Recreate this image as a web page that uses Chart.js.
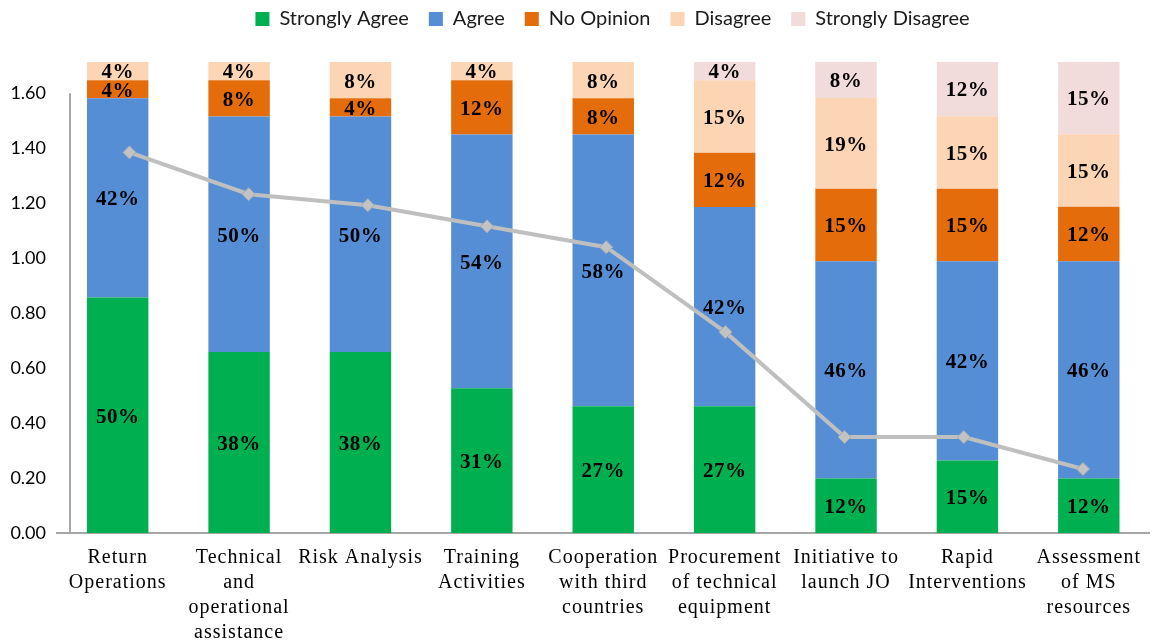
<!DOCTYPE html>
<html>
<head>
<meta charset="utf-8">
<title>Survey results</title>
<script src="https://cdn.jsdelivr.net/npm/chart.js@4.4.0/dist/chart.umd.min.js"></script>
<style>
    html, body { margin: 0; padding: 0; background: #ffffff; }
    #wrap { width: 1157px; height: 643px; position: relative; }
</style>
</head>
<body>
<div id="wrap"><canvas id="surveyChart"></canvas></div>
<script>
// ============================================================
//  DATA
// ============================================================

const categories = [
    ["Return", "Operations"],
    ["Technical", "and", "operational", "assistance"],
    ["Risk Analysis"],
    ["Training", "Activities"],
    ["Cooperation", "with third", "countries"],
    ["Procurement", "of technical", "equipment"],
    ["Initiative to", "launch JO"],
    ["Rapid", "Interventions"],
    ["Assessment", "of MS", "resources"]
];

// segment heights on the value axis
const stronglyAgree    = [0.857, 0.659, 0.659, 0.527, 0.461, 0.461, 0.198, 0.264, 0.198];
const agree            = [0.725, 0.857, 0.857, 0.923, 0.989, 0.725, 0.791, 0.725, 0.791];
const noOpinion        = [0.066, 0.132, 0.066, 0.198, 0.132, 0.198, 0.264, 0.264, 0.198];
const disagree         = [0.066, 0.066, 0.132, 0.066, 0.132, 0.264, 0.330, 0.264, 0.264];
const stronglyDisagree = [0,     0,     0,     0,     0,     0.066, 0.132, 0.198, 0.264];

// percentages printed inside the segments
const stronglyAgreePct    = [50, 38, 38, 31, 27, 27, 12, 15, 12];
const agreePct            = [42, 50, 50, 54, 58, 42, 46, 42, 46];
const noOpinionPct        = [4, 8, 4, 12, 8, 12, 15, 15, 12];
const disagreePct         = [4, 4, 8, 4, 8, 15, 19, 15, 15];
const stronglyDisagreePct = [0, 0, 0, 0, 0, 4, 8, 12, 15];

// grey line with diamonds (drawn on its own, slightly narrower category axis)
const scoreLine = [1.385, 1.233, 1.193, 1.116, 1.040, 0.731, 0.349, 0.349, 0.233];

const yTicks = [0, 0.2, 0.4, 0.6, 0.8, 1.0, 1.2, 1.4, 1.6];
const yMax = 1.714;

// ============================================================
//  PLUGINS
// ============================================================

const segmentLabels = {
    id: "segmentLabels",
    afterDatasetsDraw(chart) {
        const ctx = chart.ctx;
        ctx.save();
        ctx.font = "bold 21px 'Liberation Serif', 'Times New Roman', serif";
        ctx.letterSpacing = "0.5px";
        ctx.fillStyle = "#000000";
        ctx.textAlign = "center";
        ctx.textBaseline = "middle";
        chart.data.datasets.forEach((ds, i) => {
            if (!ds.pct) return;
            const meta = chart.getDatasetMeta(i);
            meta.data.forEach((bar, j) => {
                const p = ds.pct[j];
                if (!p) return;
                ctx.fillText(p + "%", bar.x, (bar.y + bar.base) / 2 + 2);
            });
        });
        ctx.restore();
    }
};

const leftAxisLine = {
    id: "leftAxisLine",
    beforeDatasetsDraw(chart) {
        const ctx = chart.ctx;
        const y = chart.scales.y;
        const x = chart.chartArea.left + 13;
        ctx.save();
        ctx.strokeStyle = "#a6a6a6";
        ctx.lineWidth = 2;
        ctx.beginPath();
        ctx.moveTo(x, y.getPixelForValue(0));
        ctx.lineTo(x, y.getPixelForValue(yTicks[yTicks.length - 1]));
        ctx.stroke();
        ctx.restore();
    }
};

// legend block height, legend offset, and wider spacing for category text
const layoutTweaks = {
    id: "layoutTweaks",
    beforeInit(chart) {
        const fit = chart.legend.fit;
        chart.legend.fit = function () {
            fit.bind(chart.legend)();
            this.height = 62;
        };
    },
    afterLayout(chart) {
        chart.legend.left += 29;
        chart.legend.right += 29;
        chart.legend.top -= 11;
        chart.legend.bottom -= 11;

        const xs = chart.scales.x;
        if (!xs._spaced) {
            const drawLabels = xs.drawLabels;
            xs.drawLabels = function (area) {
                chart.ctx.save();
                chart.ctx.letterSpacing = "1px";
                drawLabels.call(this, area);
                chart.ctx.restore();
            };
            xs._spaced = true;
        }
    }
};

// ============================================================
//  CHART
// ============================================================

function barSet(label, data, pct, color) {
    return {
        type: "bar",
        label: label,
        data: data,
        pct: pct,
        backgroundColor: color,
        borderWidth: 0,
        barPercentage: 0.506,
        categoryPercentage: 1.0,
        grouped: false,
        xAxisID: "x",
        stack: "answers",
        order: 1
    };
}

document.addEventListener("DOMContentLoaded", () => {
    const el = document.getElementById("surveyChart");

    window.surveyChart = new Chart(el, {
        data: {
            labels: categories,
            datasets: [
                barSet("Strongly Agree", stronglyAgree, stronglyAgreePct, "#00b050"),
                barSet("Agree", agree, agreePct, "#558ed5"),
                barSet("No Opinion", noOpinion, noOpinionPct, "#e46c0a"),
                barSet("Disagree", disagree, disagreePct, "#fcd5b5"),
                barSet("Strongly Disagree", stronglyDisagree, stronglyDisagreePct, "#f2dcdb"),
                {
                    type: "line",
                    label: "Score",
                    data: scoreLine.map((v, i) => ({ x: i, y: v })),
                    xAxisID: "x2",
                    stack: "score",
                    borderColor: "#bfbfbf",
                    borderWidth: 4,
                    pointStyle: "rectRot",
                    pointRadius: 6.5,
                    pointBackgroundColor: "#c3c3c3",
                    pointBorderColor: "#a3aab5",
                    pointBorderWidth: 1,
                    tension: 0,
                    order: 0
                }
            ]
        },
        options: {
            responsive: true,
            maintainAspectRatio: false,
            animation: false,
            layout: { padding: { top: 0, left: 10, right: 0, bottom: 0 } },
            plugins: {
                tooltip: { enabled: false },
                legend: {
                    position: "top",
                    labels: {
                        filter: item => item.text !== "Score",
                        boxWidth: 14,
                        boxHeight: 14,
                        padding: 20,
                        color: "#1a1a1a",
                        font: { family: "Lato, 'Noto Sans', sans-serif", size: 20 }
                    }
                }
            },
            scales: {
                x: {
                    stacked: true,
                    grid: { display: false, drawTicks: false },
                    border: { display: true, color: "#a6a6a6", width: 2 },
                    afterFit: scale => {
                        scale.height = 110;
                    },
                    ticks: {
                        color: "#000000",
                        padding: 12,
                        maxRotation: 0,
                        autoSkip: false,
                        font: { family: "'Liberation Serif', 'Times New Roman', serif", size: 20, lineHeight: 1.25 }
                    }
                },
                x2: {
                    type: "linear",
                    display: false,
                    min: -0.608,
                    max: 8.558
                },
                y: {
                    stacked: true,
                    min: 0,
                    max: yMax,
                    grid: { display: false, drawTicks: false },
                    border: { display: false },
                    afterBuildTicks: scale => {
                        scale.ticks = yTicks.map(v => ({ value: v }));
                    },
                    afterFit: scale => {
                        scale.width = 47;
                    },
                    ticks: {
                        color: "#000000",
                        padding: 11,
                        callback: v => Number(v).toFixed(2),
                        font: { family: "Lato, 'Noto Sans', sans-serif", size: 18 }
                    }
                }
            }
        },
        plugins: [segmentLabels, leftAxisLine, layoutTweaks]
    });
});
</script>
</body>
</html>
